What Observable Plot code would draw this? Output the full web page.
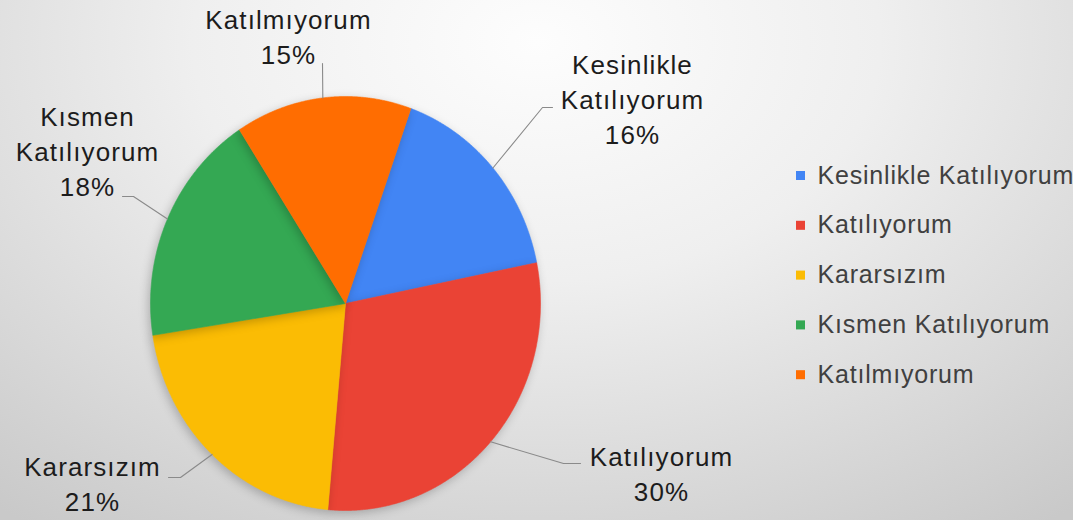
<!DOCTYPE html>
<html><head><meta charset="utf-8">
<script src="https://cdn.jsdelivr.net/npm/d3@7"></script>
<script src="https://cdn.jsdelivr.net/npm/@observablehq/plot@0.6"></script>
<style>
html,body{margin:0;padding:0;width:1073px;height:520px;overflow:hidden;}
body{background: radial-gradient(ellipse 80% 115% at 50% 8%, #fdfdfd 0%, #efefef 40%, #d9d9d9 75%, #c9c9c9 100%);}
#chart svg{display:block;}
</style></head><body><div id="chart"></div>
<script>
// ---- data ----
const categories = ["Kesinlikle Katılıyorum", "Katılıyorum", "Kararsızım", "Kısmen Katılıyorum", "Katılmıyorum"];
const values = [16.4, 29.6, 21.1, 18.3, 14.6];
const labelNames = [["Kesinlikle", "Katılıyorum"], ["Katılıyorum"], ["Kararsızım"], ["Kısmen", "Katılıyorum"], ["Katılmıyorum"]];

// ---- styles / layout ----
const colors = ["#4285F4", "#EA4335", "#FBBC04", "#34A853", "#FF6D01"];
const pieGeom = {cx: 345, cy: 303, rx: 195, ry: 207, startDeg: 19.6};
const labelLayout = [
  {x: 632, base: 73, pts: [[542, 107], [552, 107]]},
  {x: 661, base: 465, pts: [[563, 463], [580, 463]]},
  {x: 92, base: 475, pts: [[180, 477], [168, 477]]},
  {x: 87, base: 125, pts: [[133, 196], [122, 196]]},
  {x: 288, base: 28, pts: [[322, 63]]}
];
const labelFont = 26, labelLine = 35;
const legendLayout = {x: 800, textX: 817, y0: 175, step: 49.8, font: 25};

// ---- geometry from values ----
const a0 = pieGeom.startDeg * Math.PI / 180;
const arcs = d3.pie().sort(null).value(d => d).startAngle(a0).endAngle(a0 + 2 * Math.PI)(values);
const P = a => ({x: pieGeom.cx + pieGeom.rx * Math.sin(a), y: pieGeom.cy - pieGeom.ry * Math.cos(a)});
const total = d3.sum(values);

const sliceMarks = arcs.map((arc, i) => {
  const n = Math.ceil((arc.endAngle - arc.startAngle) / (Math.PI / 720));
  const pts = [{x: pieGeom.cx, y: pieGeom.cy}];
  for (let k = 0; k <= n; k++) pts.push(P(arc.startAngle + (arc.endAngle - arc.startAngle) * k / n));
  pts.push({x: pieGeom.cx, y: pieGeom.cy});
  return Plot.line(pts, {x: "x", y: "y", fill: colors[i], stroke: colors[i], strokeWidth: 0.6, curve: "linear"});
});

const leaderMarks = arcs.map((arc, i) => {
  const mid = P((arc.startAngle + arc.endAngle) / 2);
  const pts = [mid, ...labelLayout[i].pts.map(([x, y]) => ({x, y}))];
  return Plot.line(pts, {x: "x", y: "y", stroke: "#8a8a8a", strokeWidth: 1.1});
});

const labelRows = [];
categories.forEach((c, i) => {
  const lines = [...labelNames[i], Math.round(values[i] / total * 100) + "%"];
  lines.forEach((t, j) => labelRows.push({text: t, x: labelLayout[i].x, y: labelLayout[i].base + j * labelLine - 0.32 * labelFont}));
});

const legendRows = categories.map((c, i) => ({name: c, color: colors[i], y: legendLayout.y0 + i * legendLayout.step}));

const chart = Plot.plot({
  width: 1073, height: 520, margin: 0,
  style: {background: "transparent", fontFamily: "'Liberation Sans', Arial, sans-serif"},
  x: {domain: [0, 1073], range: [0, 1073], axis: null},
  y: {domain: [0, 520], range: [0, 520], axis: null},
  marks: [
    ...sliceMarks,
    ...leaderMarks,
    Plot.text(labelRows, {x: "x", y: "y", text: "text", textAnchor: "middle", fontSize: labelFont, fill: "#1c1c1c", style: "letter-spacing:1.1px"}),
    Plot.dot(legendRows, {x: () => legendLayout.x, y: "y", symbol: "square", r: 5.1, fill: d => d.color, stroke: null}),
    Plot.text(legendRows, {x: () => legendLayout.textX, y: "y", text: "name", textAnchor: "start", fontSize: legendLayout.font, fill: "#404040"})
  ]
});
document.getElementById("chart").appendChild(chart);
// soft shadow under the pie slices
const groups = chart.querySelectorAll("g[aria-label='line']");
for (let i = 0; i < arcs.length; i++) groups[i].style.filter = "drop-shadow(-2px 3px 5px rgba(0,0,0,0.22))";
chart.querySelectorAll("g[aria-label='text']").forEach(g => g.style.letterSpacing = "1.1px");
chart.querySelectorAll("g[aria-label='text']")[1].style.letterSpacing = "0.8px";
</script></body></html>
